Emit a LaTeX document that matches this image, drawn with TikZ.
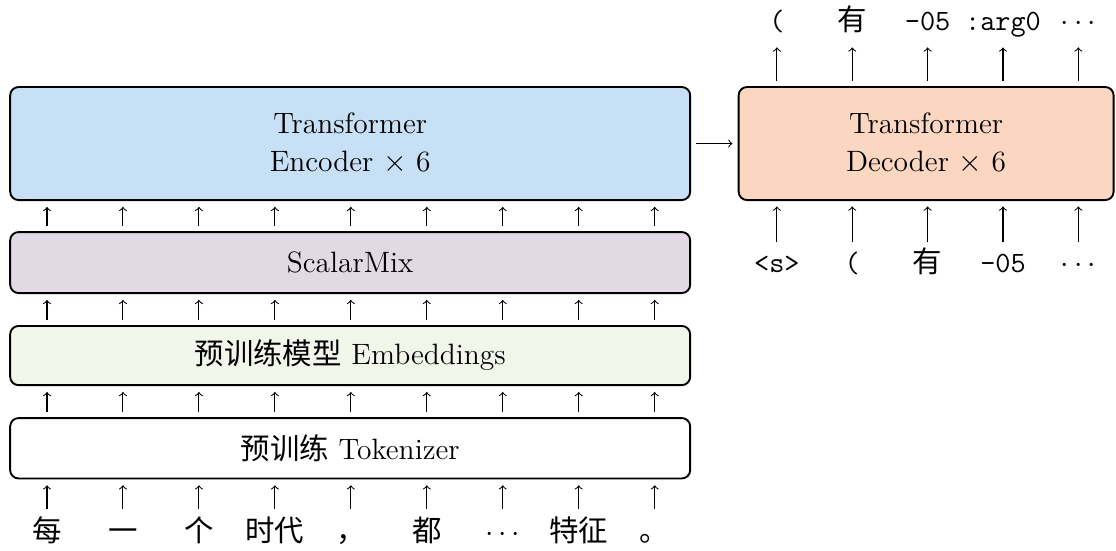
\documentclass[tikz,border=0pt]{standalone}
\usepackage{fontspec}
\newfontfamily\cjk{Noto Sans CJK SC}
\newcommand{\zh}[1]{{\cjk #1}}

\begin{document}
\begin{tikzpicture}[font=\fontsize{14}{18}\selectfont, line width=0.5pt,
	block/.style={draw, line width=0.9pt, rounded corners=4pt, align=center},
	tok/.style={inner sep=1pt, text height=10pt, text depth=3pt},
	rise/.style={->, shorten >=2.8pt},
	link/.style={rise, shorten <=2.4pt}]
	% Define colors for blocks
	\definecolor{enccolor}{RGB}{200, 224, 245}
	\definecolor{mixcolor}{RGB}{227, 217, 228}
	\definecolor{embcolor}{RGB}{241, 245, 234}
	\definecolor{deccolor}{RGB}{251, 214, 192}
	
	\useasboundingbox (0,0) rectangle (18.66,9.2);
	
	% Encoder side (stacked blocks)
	\node[block, fill=enccolor, minimum width=11.37cm, minimum height=1.89cm] (enc) at (5.855,6.80) {Transformer\\Encoder $\times$ 6};
	\node[block, fill=mixcolor, minimum width=11.37cm, minimum height=1.02cm] (mix) at (5.855,4.81) {ScalarMix};
	\node[block, fill=embcolor, minimum width=11.37cm, minimum height=0.99cm] (emb) at (5.855,3.255) {\zh{预训练模型} Embeddings};
	\node[block, minimum width=11.37cm, minimum height=1.01cm] (tkz) at (5.855,1.705) {\zh{预训练} Tokenizer};
	
	% Input words
	\foreach \w [count=\i] in {\zh{每},\zh{一},\zh{个},\zh{时代},\zh{，},\zh{都},$\cdots$,\zh{特征},\zh{。}}
		\node[tok] (w\i) at ({0.786+1.27*(\i-1)},0.27) {\w};
	
	% Arrows between the blocks
	\foreach \i in {1,...,9} {
		\draw[rise, shorten <=4.4pt] (w\i.north) -- (tkz.south -| w\i);
		\draw[link] (tkz.north -| w\i) -- (emb.south -| w\i);
		\draw[link] (emb.north -| w\i) -- (mix.south -| w\i);
		\draw[link] (mix.north -| w\i) -- (enc.south -| w\i);
	}
	
	% Decoder
	\node[block, fill=deccolor, minimum width=6.27cm, minimum height=1.89cm] (dec) at (15.485,6.80) {Transformer\\Decoder $\times$ 6};
	\draw[->, shorten <=2.5pt, shorten >=2.5pt] (enc.east) -- (dec.west);
	
	% Decoder inputs and outputs
	\foreach \w [count=\i] in {\texttt{<s>},\texttt{(},\zh{有},\texttt{-05},$\cdots$}
		\node[tok] (in\i) at ({12.99+1.26*(\i-1)},4.77) {\w};
	\foreach \w [count=\i] in {\texttt{(},\zh{有},\texttt{-05},\texttt{:arg0},$\cdots$}
		\node[tok] (out\i) at ({12.99+1.26*(\i-1)},8.81) {\w};
	\foreach \i in {1,...,5} {
		\draw[->, shorten <=3pt, shorten >=2.6pt] (in\i.north) -- (dec.south -| in\i);
		\draw[->, shorten <=2.6pt, shorten >=3.7pt] (dec.north -| out\i) -- (out\i.south);
	}
\end{tikzpicture}
\end{document}
